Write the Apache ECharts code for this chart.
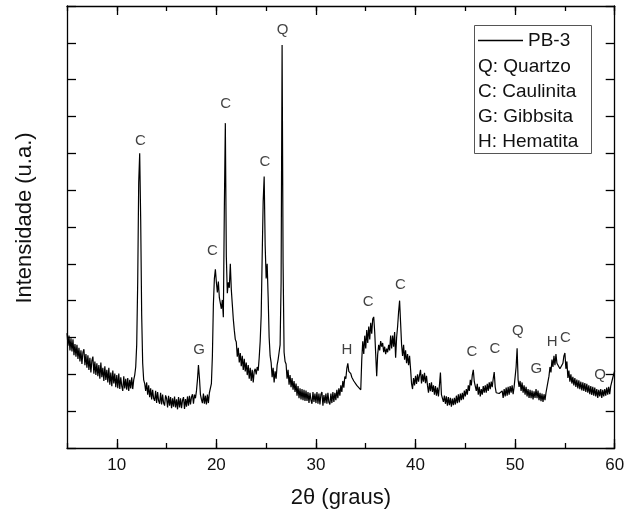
<!DOCTYPE html>
<html><head><meta charset="utf-8">
<script src="https://cdn.jsdelivr.net/npm/echarts@6/dist/echarts.min.js"></script>
<style>html,body{margin:0;padding:0;background:#fff}#c{width:628px;height:521px}</style>
</head><body><div id="c"></div>
<script>
// 2θ sampling (degrees)
const twoTheta = [
5.0,5.1,5.2,5.3,5.4,5.5,5.6,5.7,5.8,5.9,
6.0,6.1,6.2,6.3,6.4,6.5,6.6,6.7,6.8,6.9,
7.0,7.1,7.2,7.3,7.4,7.5,7.6,7.7,7.8,7.9,
8.0,8.1,8.2,8.3,8.4,8.5,8.6,8.7,8.8,8.9,
9.0,9.1,9.2,9.3,9.4,9.5,9.6,9.7,9.8,9.9,
10.0,10.1,10.2,10.3,10.4,10.5,10.6,10.7,10.8,10.9,
11.0,11.1,11.2,11.3,11.4,11.5,11.6,11.7,11.8,11.9,
12.0,12.1,12.2,12.3,12.4,12.5,12.6,12.7,12.8,12.9,
13.0,13.1,13.2,13.3,13.4,13.5,13.6,13.7,13.8,13.9,
14.0,14.1,14.2,14.3,14.4,14.5,14.6,14.7,14.8,14.9,
15.0,15.1,15.2,15.3,15.4,15.5,15.6,15.7,15.8,15.9,
16.0,16.1,16.2,16.3,16.4,16.5,16.6,16.7,16.8,16.9,
17.0,17.1,17.2,17.3,17.4,17.5,17.6,17.7,17.8,17.9,
18.0,18.1,18.2,18.3,18.4,18.5,18.6,18.7,18.8,18.9,
19.0,19.1,19.2,19.3,19.4,19.5,19.6,19.7,19.8,19.9,
20.0,20.1,20.2,20.3,20.4,20.5,20.6,20.7,20.8,20.9,
21.0,21.1,21.2,21.3,21.4,21.5,21.6,21.7,21.8,21.9,
22.0,22.1,22.2,22.3,22.4,22.5,22.6,22.7,22.8,22.9,
23.0,23.1,23.2,23.3,23.4,23.5,23.6,23.7,23.8,23.9,
24.0,24.1,24.2,24.3,24.4,24.5,24.6,24.7,24.8,24.9,
25.0,25.1,25.2,25.3,25.4,25.5,25.6,25.7,25.8,25.9,
26.0,26.1,26.2,26.3,26.4,26.5,26.6,26.7,26.8,26.9,
27.0,27.1,27.2,27.3,27.4,27.5,27.6,27.7,27.8,27.9,
28.0,28.1,28.2,28.3,28.4,28.5,28.6,28.7,28.8,28.9,
29.0,29.1,29.2,29.3,29.4,29.5,29.6,29.7,29.8,29.9,
30.0,30.1,30.2,30.3,30.4,30.5,30.6,30.7,30.8,30.9,
31.0,31.1,31.2,31.3,31.4,31.5,31.6,31.7,31.8,31.9,
32.0,32.1,32.2,32.3,32.4,32.5,32.6,32.7,32.8,32.9,
33.0,33.1,33.2,33.3,33.4,33.5,33.6,33.7,33.8,33.9,
34.0,34.1,34.2,34.3,34.4,34.5,34.6,34.7,34.8,34.9,
35.0,35.1,35.2,35.3,35.4,35.5,35.6,35.7,35.8,35.9,
36.0,36.1,36.2,36.3,36.4,36.5,36.6,36.7,36.8,36.9,
37.0,37.1,37.2,37.3,37.4,37.5,37.6,37.7,37.8,37.9,
38.0,38.1,38.2,38.3,38.4,38.5,38.6,38.7,38.8,38.9,
39.0,39.1,39.2,39.3,39.4,39.5,39.6,39.7,39.8,39.9,
40.0,40.1,40.2,40.3,40.4,40.5,40.6,40.7,40.8,40.9,
41.0,41.1,41.2,41.3,41.4,41.5,41.6,41.7,41.8,41.9,
42.0,42.1,42.2,42.3,42.4,42.5,42.6,42.7,42.8,42.9,
43.0,43.1,43.2,43.3,43.4,43.5,43.6,43.7,43.8,43.9,
44.0,44.1,44.2,44.3,44.4,44.5,44.6,44.7,44.8,44.9,
45.0,45.1,45.2,45.3,45.4,45.5,45.6,45.7,45.8,45.9,
46.0,46.1,46.2,46.3,46.4,46.5,46.6,46.7,46.8,46.9,
47.0,47.1,47.2,47.3,47.4,47.5,47.6,47.7,47.8,47.9,
48.0,48.1,48.2,48.3,48.4,48.5,48.6,48.7,48.8,48.9,
49.0,49.1,49.2,49.3,49.4,49.5,49.6,49.7,49.8,49.9,
50.0,50.1,50.2,50.3,50.4,50.5,50.6,50.7,50.8,50.9,
51.0,51.1,51.2,51.3,51.4,51.5,51.6,51.7,51.8,51.9,
52.0,52.1,52.2,52.3,52.4,52.5,52.6,52.7,52.8,52.9,
53.0,53.1,53.2,53.3,53.4,53.5,53.6,53.7,53.8,53.9,
54.0,54.1,54.2,54.3,54.4,54.5,54.6,54.7,54.8,54.9,
55.0,55.1,55.2,55.3,55.4,55.5,55.6,55.7,55.8,55.9,
56.0,56.1,56.2,56.3,56.4,56.5,56.6,56.7,56.8,56.9,
57.0,57.1,57.2,57.3,57.4,57.5,57.6,57.7,57.8,57.9,
58.0,58.1,58.2,58.3,58.4,58.5,58.6,58.7,58.8,58.9,
59.0,59.1,59.2,59.3,59.4,59.5,59.6,59.7,59.8,59.9,
60.0
];
// Intensity (arbitrary units)
const intensity = [
3.12,2.78,3.05,2.65,2.98,2.62,2.95,2.52,2.82,2.48,
2.8,2.42,2.72,2.35,2.65,2.28,2.6,2.68,2.25,2.55,
2.18,2.52,2.12,2.45,2.05,2.38,2.48,2.02,2.35,1.98,
2.3,1.95,2.25,1.88,2.32,1.92,2.18,1.82,2.22,1.85,
2.12,1.78,2.18,1.72,2.05,1.68,2.1,1.75,2.02,1.65,
1.98,1.62,2.02,1.6,1.92,1.68,1.55,1.95,1.62,1.88,
1.58,1.9,1.55,1.85,1.62,1.92,1.6,1.85,1.98,2.2,
2.8,4.5,7.2,8.0,6.2,3.6,2.3,1.85,1.75,1.55,
1.78,1.45,1.7,1.38,1.62,1.32,1.58,1.35,1.28,1.55,
1.22,1.52,1.28,1.2,1.5,1.18,1.45,1.22,1.15,1.43,
1.35,1.1,1.42,1.15,1.38,1.08,1.35,1.12,1.4,1.1,
1.32,1.05,1.38,1.1,1.35,1.08,1.3,1.38,1.06,1.33,
1.12,1.4,1.15,1.42,1.18,1.38,1.46,1.2,1.45,1.35,
1.55,1.85,2.25,1.9,1.45,1.32,1.22,1.48,1.2,1.42,
1.18,1.45,1.22,1.5,1.5,1.75,2.5,3.9,4.6,4.85,
4.5,4.22,4.52,4.08,4.12,3.78,4.02,3.55,6.5,8.82,
5.2,4.2,4.5,4.35,5.0,4.3,3.9,3.5,3.2,2.95,
2.88,2.48,2.72,2.32,2.58,2.22,2.5,2.12,2.42,2.08,
2.32,1.98,2.25,1.88,2.18,1.82,2.12,1.78,2.08,2.15,
2.0,2.2,2.1,2.45,2.9,3.6,5.2,6.7,7.37,5.5,
4.6,5.0,4.1,3.0,2.5,2.32,1.92,2.18,1.78,2.08,
1.88,2.25,2.4,2.6,2.8,4.5,10.94,5.0,2.6,2.35,
2.28,1.88,2.12,1.72,1.98,1.65,1.9,1.58,1.82,1.52,
1.75,1.42,1.68,1.35,1.62,1.32,1.6,1.3,1.58,1.28,
1.56,1.28,1.52,1.22,1.5,1.3,1.2,1.52,1.25,1.48,
1.22,1.52,1.2,1.48,1.18,1.46,1.52,1.15,1.44,1.22,
1.48,1.2,1.5,1.24,1.18,1.48,1.22,1.52,1.25,1.5,
1.3,1.58,1.35,1.62,1.42,1.7,1.52,1.82,1.64,1.94,
1.88,2.16,2.3,2.08,2.06,2.02,1.92,1.88,1.82,1.78,
1.78,1.7,1.68,1.64,1.62,1.58,2.4,2.9,2.55,3.05,
2.7,3.2,2.85,3.3,2.95,3.4,3.1,3.5,3.56,3.15,
2.55,1.95,2.55,2.8,2.65,2.9,2.75,2.85,2.6,2.75,
2.55,2.7,2.6,2.8,2.65,3.05,2.7,3.05,2.75,3.15,
2.45,3.0,3.3,3.7,4.0,3.4,2.8,2.5,2.8,2.4,
2.65,2.3,2.55,2.25,2.5,2.15,1.75,1.6,1.9,1.7,
1.96,1.74,2.0,1.8,1.98,2.12,1.75,2.0,1.8,2.04,
1.76,1.96,1.7,1.5,1.76,1.54,1.78,1.52,1.7,1.45,
1.68,1.42,1.64,1.4,1.7,2.05,1.45,1.48,1.25,1.42,
1.2,1.4,1.15,1.38,1.16,1.36,1.12,1.34,1.16,1.36,
1.18,1.42,1.22,1.46,1.24,1.48,1.3,1.5,1.32,1.56,
1.4,1.6,1.45,1.7,1.55,1.85,1.7,1.98,2.12,1.8,
1.8,1.55,1.74,1.45,1.66,1.4,1.6,1.45,1.68,1.5,
1.7,1.5,1.74,1.55,1.78,1.6,1.8,1.65,1.88,2.06,
1.66,1.5,1.54,1.5,1.48,1.46,1.44,1.55,1.36,1.6,
1.4,1.64,1.42,1.66,1.45,1.68,1.5,1.7,1.46,1.66,
1.66,2.2,2.71,1.85,1.66,1.82,1.55,1.78,1.5,1.7,
1.45,1.66,1.4,1.6,1.36,1.58,1.35,1.56,1.32,1.54,
1.36,1.6,1.35,1.56,1.3,1.5,1.27,1.48,1.25,1.46,
1.3,1.5,1.55,1.8,1.95,2.2,2.05,2.4,2.2,2.5,
2.25,2.55,2.3,2.25,2.3,2.15,2.2,2.2,2.3,2.5,
2.58,2.15,2.35,1.9,2.1,1.8,2.0,1.75,1.93,1.7,
1.9,1.66,1.86,1.62,1.84,1.6,1.8,1.56,1.78,1.55,
1.76,1.52,1.74,1.5,1.7,1.46,1.68,1.44,1.66,1.42,
1.64,1.4,1.6,1.36,1.58,1.4,1.6,1.36,1.58,1.4,
1.6,1.42,1.64,1.45,1.66,1.46,1.68,1.65,1.9,1.92,
2.1
];
// Phase annotations
const peakText = ['C','G','C','C','C','Q','H','C','C','C','C','Q','G','H','C','Q'];
const peakX = [12.38,18.26,19.61,20.93,24.87,26.66,33.11,35.25,38.47,45.67,47.98,50.28,52.12,53.71,55.05,58.54];
const peakY = [8.34,2.66,5.35,9.35,7.76,11.36,2.66,3.97,4.44,2.62,2.70,3.18,2.16,2.89,2.98,1.98];
const seriesName = 'PB-3';
const legendNotes = ['Q: Quartzo','C: Caulinita','G: Gibbsita','H: Hematita'];
const xMajorTicks = [10,20,30,40,50,60];

const FONT = '"Liberation Sans", Arial, Helvetica, sans-serif';
const chart = echarts.init(document.getElementById('c'), null, {renderer: 'canvas'});
const G = {left: 67, right: 13.3, top: 6, bottom: 73};
const xMin = 5, xMax = 60;
const pxPerUnit = (628 - G.left - G.right) / (xMax - xMin);
const black = '#000';
const axisLine = {show: true, onZero: false, lineStyle: {color: black, width: 1.3}};
const minorTick = {show: true, inside: true, length: 5, lineStyle: {color: black, width: 1.3}};
const majorTick = {show: true, inside: true, length: 9, lineStyle: {color: black, width: 1.3}};

const option = {
  animation: false,
  backgroundColor: '#fff',
  grid: [
    {left: G.left, right: G.right, top: G.top, bottom: G.bottom},
    {left: G.left + (xMajorTicks[0] - xMin) * pxPerUnit, right: G.right, top: G.top, bottom: G.bottom}
  ],
  xAxis: [
    {gridIndex: 0, type: 'value', min: xMin, max: xMax, interval: 5, position: 'bottom',
     axisLine: axisLine, axisTick: minorTick, axisLabel: {show: false}, splitLine: {show: false},
     name: '2θ (graus)', nameLocation: 'middle', nameGap: 39,
     nameTextStyle: {fontFamily: FONT, fontSize: 22, color: '#111'}},
    {gridIndex: 0, type: 'value', min: xMin, max: xMax, interval: 5, position: 'top',
     axisLine: axisLine, axisTick: minorTick, axisLabel: {show: false}, splitLine: {show: false}},
    {gridIndex: 1, type: 'value', min: xMajorTicks[0], max: xMajorTicks[xMajorTicks.length - 1], interval: 10, position: 'bottom',
     axisLine: {show: false}, axisTick: majorTick, splitLine: {show: false},
     axisLabel: {show: true, margin: 9, fontFamily: FONT, fontSize: 17, color: '#111'}},
    {gridIndex: 1, type: 'value', min: xMajorTicks[0], max: xMajorTicks[xMajorTicks.length - 1], interval: 10, position: 'top',
     axisLine: {show: false}, axisTick: majorTick, axisLabel: {show: false}, splitLine: {show: false}}
  ],
  yAxis: [
    {gridIndex: 0, type: 'value', min: 0, max: 12, interval: 1, position: 'left',
     axisLine: axisLine, axisTick: majorTick, axisLabel: {show: false}, splitLine: {show: false},
     name: 'Intensidade (u.a.)', nameLocation: 'middle', nameGap: 31, nameRotate: 90,
     nameTextStyle: {fontFamily: FONT, fontSize: 22, color: '#111', padding: [0, 0, 0, 18]}},
    {gridIndex: 0, type: 'value', min: 0, max: 12, interval: 1, position: 'right',
     axisLine: axisLine, axisTick: majorTick, axisLabel: {show: false}, splitLine: {show: false}},
    {gridIndex: 1, type: 'value', min: 0, max: 12, show: false}
  ],
  legend: {
    data: [{name: seriesName, icon: 'rect'}],
    left: 478, top: 31, padding: 0,
    itemWidth: 45, itemHeight: 1.3, itemGap: 5,
    textStyle: {fontFamily: FONT, fontSize: 19, color: '#111', padding: [0, 0, 0, 0]}
  },
  graphic: [
    {type: 'rect', left: 474, top: 25, shape: {width: 117, height: 128},
     style: {fill: 'rgba(0,0,0,0)', stroke: '#555', lineWidth: 1}, z: 10},
    ...legendNotes.map((t, i) => ({
      type: 'text', left: 478, top: 57 + i * 25, z: 10,
      style: {text: t, font: '19px ' + FONT, fill: '#111'}
    }))
  ],
  series: [
    {name: seriesName, type: 'line', xAxisIndex: 0, yAxisIndex: 0,
     data: twoTheta.map((x, i) => [x, intensity[i]]),
     showSymbol: false, symbol: 'none', sampling: 'none',
     lineStyle: {color: '#000', width: 1.2}, itemStyle: {color: '#000'}, z: 3},
    {name: 'labels', type: 'scatter', xAxisIndex: 0, yAxisIndex: 0,
     data: peakX.map((x, i) => ({value: [x, peakY[i]], name: peakText[i]})),
     symbol: 'circle', symbolSize: 1, itemStyle: {color: 'rgba(0,0,0,0)'},
     label: {show: true, position: 'inside', formatter: '{b}', fontFamily: FONT, fontSize: 15, color: '#111'},
     silent: true, z: 5}
  ]
};
chart.setOption(option);
</script>
</body></html>
